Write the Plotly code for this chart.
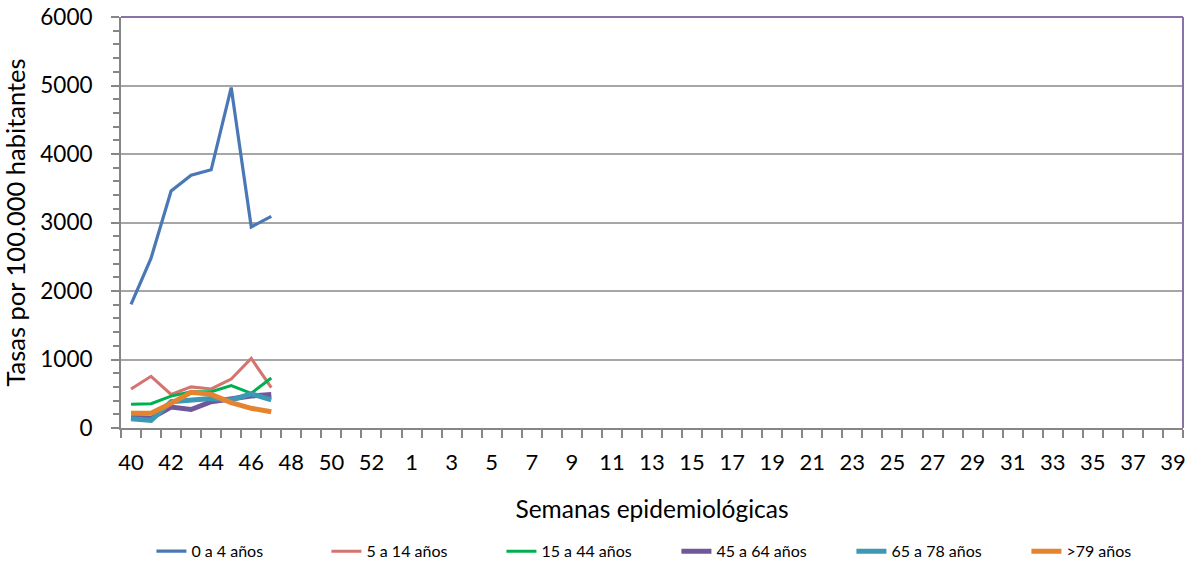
import plotly.graph_objects as go

weeks = [str(w) for w in list(range(40, 54)) + list(range(1, 40))]
data_weeks = ["40", "41", "42", "43", "44", "45", "46", "47"]

series_names = ["0 a 4 años", "5 a 14 años", "15 a 44 años", "45 a 64 años", "65 a 78 años", ">79 años"]
s_0_4 = [1805, 2480, 3460, 3690, 3770, 4970, 2935, 3090]
s_5_14 = [570, 755, 490, 600, 570, 715, 1015, 588]
s_15_44 = [345, 355, 465, 530, 530, 618, 506, 730]
s_45_64 = [156, 141, 305, 270, 384, 433, 467, 490]
s_65_78 = [136, 112, 384, 405, 430, 410, 500, 409]
s_79 = [214, 214, 360, 521, 491, 370, 287, 238]
series_values = [s_0_4, s_5_14, s_15_44, s_45_64, s_65_78, s_79]

colors = ["#4A78B5", "#D4736F", "#00B04F", "#70579A", "#3C99B5", "#E6832F"]
widths = [3.2, 3, 3, 5, 5, 5]

y_ticks = [0, 1000, 2000, 3000, 4000, 5000, 6000]
x_tick_labels = weeks[::2]

FONT = "Lato"
idx = {w: i for i, w in enumerate(weeks)}

fig = go.Figure()
for name, vals, c, w in zip(series_names, series_values, colors, widths):
    fig.add_trace(go.Scatter(
        x=[idx[d] for d in data_weeks], y=vals, name=name, mode="lines",
        line=dict(color=c, width=w),
    ))

axis_col = "#868686"
fig.update_layout(
    width=1192, height=565,
    margin=dict(l=121, r=9, t=17, b=137, autoexpand=False),
    plot_bgcolor="white", paper_bgcolor="white",
    font=dict(family=FONT, color="#000000"),
    showlegend=True,
    legend=dict(orientation="h", x=0.523, xanchor="center", y=-0.3, yanchor="middle",
                font=dict(size=16, family=FONT), entrywidth=130, itemwidth=30),
    xaxis=dict(
        range=[-0.5, len(weeks) - 0.5], automargin=False,
        tickmode="array", tickvals=list(range(0, len(weeks), 2)), ticktext=x_tick_labels,
        ticks="", showgrid=False, zeroline=False,
        showline=True, linecolor=axis_col, linewidth=2,
        tickfont=dict(size=22, family=FONT),
        ticklabelstandoff=14,
        minor=dict(tickmode="linear", tick0=-0.5, dtick=1, ticks="outside", ticklen=8,
                   tickcolor=axis_col, tickwidth=1.5, showgrid=False),
        title=dict(text="Semanas epidemiológicas", font=dict(size=24.5, family=FONT), standoff=26),
    ),
    yaxis=dict(
        range=[0, 6000], automargin=False, tickmode="array", tickvals=y_ticks,
        ticks="outside", ticklen=8, tickcolor=axis_col, tickwidth=1.5,
        showgrid=True, gridcolor="#A6A6A6", gridwidth=1.5, zeroline=False,
        showline=True, linecolor=axis_col, linewidth=2,
        tickfont=dict(size=22.5, family=FONT),
        ticklabelstandoff=14,
        minor=dict(tickmode="linear", tick0=0, dtick=200, ticks="outside", ticklen=6,
                   tickcolor=axis_col, tickwidth=1.5, showgrid=False),
        title=dict(text="Tasas por 100.000 habitantes", font=dict(size=25.5, family=FONT), standoff=8),
    ),
    shapes=[
        dict(type="line", xref="paper", yref="paper", x0=0, x1=1, y0=1, y1=1,
             line=dict(color="#8872A8", width=2)),
        dict(type="line", xref="paper", yref="paper", x0=1, x1=1, y0=0, y1=1,
             line=dict(color="#8872A8", width=2)),
    ],
)

fig.write_html("out.html", config={"displayModeBar": False},
               post_script="document.body.style.margin='0';document.body.style.padding='0';")
